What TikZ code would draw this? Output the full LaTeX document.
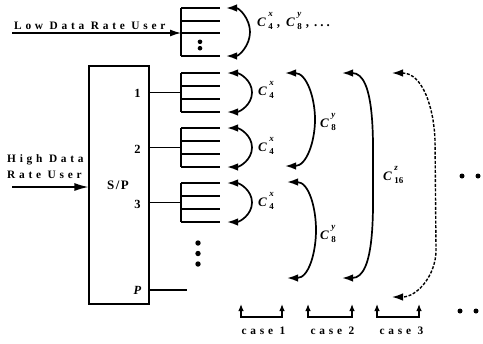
\documentclass[tikz,border=0pt]{standalone}
\usepackage{fontspec}
\setmainfont{Liberation Serif}
\newfontfamily\spc[LetterSpace=33]{Liberation Serif}
\newfontfamily\spcb[LetterSpace=12]{Liberation Serif}
\usetikzlibrary{arrows.meta,calc}
\newcommand\Cs[2]{\textbf{\textit{C}}\hspace{2.5pt}\makebox[0pt][l]{\raisebox{10pt}{\fontsize{9}{9}\selectfont\bfseries\itshape #1}}\raisebox{-3.5pt}{\fontsize{9}{9}\selectfont\bfseries #2}}
\newcommand\regdraw[2]{%
  \draw[regline] (#1.north west) -- (#1.south west);
  \foreach \k in {#2} \draw[regline] ($(#1.north west)!\k!(#1.south west)$) -- ($(#1.north east)!\k!(#1.south east)$);}
\begin{document}
\begin{tikzpicture}[x=1bp,y=-1bp,
  lbl/.style={font=\spc\bfseries\fontsize{11.4}{13}\selectfont, inner sep=0pt},
  num/.style={font=\bfseries\fontsize{12.5}{14}\selectfont, inner sep=0pt},
  clbl/.style={font=\bfseries\fontsize{13}{15}\selectfont, inner sep=0pt, anchor=base west},
  reg/.style={minimum width=39bp, minimum height=39bp, inner sep=0pt, outer sep=0pt},
  regline/.style={line width=1.1bp},
  arc/.style={line width=1.7bp, {Latex[length=11bp,width=7.5bp]}-{Latex[length=11bp,width=7.5bp]}},
  flow/.style={line width=1.3bp, -{Latex[length=11bp,width=7bp]}},
  bracket/.style={line width=1.2bp, {Latex[length=7bp,width=5.5bp]}-{Latex[length=7bp,width=5.5bp]}},
  dot/.style={circle, fill, inner sep=0pt, minimum size=5bp}]
\useasboundingbox (0,0) rectangle (483,343);

% low data rate register
\node[reg, minimum height=48bp] (r0) at (200.5,32) {};
\regdraw{r0}{0,0.2708,0.5208,1}
\node[dot, minimum size=4.6bp] (r0d1) at (200,41.8) {};
\node[dot, minimum size=4.6bp] (r0d2) at (200,48.2) {};
\coordinate (lowin) at (12,33);
\draw[flow] (lowin) -- (lowin -| r0.west);
\node[lbl, anchor=base west] (lowlbl) at (14,29) {Low Data Rate User};

% S/P box
\node[draw, line width=1.2bp, minimum width=60bp, minimum height=238bp, inner sep=0pt] (sp) at (119,185) {};
\node[font=\spcb\bfseries\fontsize{13}{15}\selectfont, inner sep=0pt] (splbl) at (118,185.5) {S/P};
\coordinate (highin) at (12,187);
\draw[flow, -{Latex[length=14bp,width=8bp]}] (highin) -- (highin -| sp.west);
\node[lbl, anchor=base west] (hi1) at (7,162.3) {High Data};
\node[lbl, anchor=base west] (hi2) at (7,178) {Rate User};

% registers
\node[reg] (r1) at (200.5,92.5) {};
\node[reg] (r2) at (200.5,147.5) {};
\node[reg] (r3) at (200.5,202.5) {};
\foreach \r in {r1,r2,r3} {\regdraw{\r}{0,0.3333,0.6667,1}}

\node[num] (p1) at (137.5,93) {1};
\node[num] (p2) at (137.5,149.5) {2};
\node[num] (p3) at (137.5,204) {3};
\node[num, font=\bfseries\itshape\fontsize{12.5}{14}\selectfont] (pp) at (137.5,290) {P};
\foreach \r in {r1,r2,r3} {\draw[regline] (sp.east |- \r.west) -- (\r.west);}
\coordinate (pend) at (187,290);
\draw[regline] (sp.east |- pend) -- (pend);

\node[dot, minimum size=5.4bp] (vd1) at (198,243) {};
\node[dot, minimum size=5.4bp] (vd2) at (198,253.5) {};
\node[dot, minimum size=5.4bp] (vd3) at (198,264) {};

% case 1 arcs
\coordinate (t0) at (226,8); \coordinate (m0) at (250,32); \coordinate (b0) at (226,56);
\draw[arc] (t0) to[out=0,in=90] (m0) to[out=-90,in=0] (b0);
\foreach \r in {r1,r2,r3} {
  \draw[arc] ($(\r.north east)+(7,0)$) to[out=0,in=90] ($(\r.east)+(32,0)$) to[out=-90,in=0] ($(\r.south east)+(7,0)$);}

% case 2 arcs
\coordinate (ta) at (285,73); \coordinate (ma) at (315,119.5); \coordinate (ba) at (285,166);
\draw[arc] (ta) to[out=0,in=90] (ma) to[out=-90,in=0] (ba);
\coordinate (tb) at (287,182); \coordinate (mb) at (316,230); \coordinate (bb) at (287,278);
\draw[arc] (tb) to[out=0,in=90] (mb) to[out=-90,in=0] (bb);

% case 3 arc
\coordinate (tc) at (342,73); \coordinate (mc) at (373,175.5); \coordinate (bc) at (342,278);
\draw[arc] (tc) to[out=0,in=90,looseness=0.8] (mc) to[out=-90,in=0,looseness=0.8] (bc);

% dashed arc
\coordinate (td) at (392,73); \coordinate (md1) at (435,140); \coordinate (md2) at (436,250); \coordinate (bd) at (392,297);
\draw[arc, line width=1.4bp, dash pattern=on 3bp off 1.6bp] (td) to[out=0,in=92] (md1) -- (md2) to[out=-90,in=0] (bd);

% labels
\node[clbl] (ltop) at (257,26) {\Cs{x}{4}\hspace{4pt},\hspace{6pt}\Cs{y}{8}\hspace{4pt},\hspace{5pt}.\hspace{3pt}.\hspace{3pt}.};
\node[clbl] (l41) at (258,95) {\Cs{x}{4}};
\node[clbl] (l42) at (258,151) {\Cs{x}{4}};
\node[clbl] (l43) at (258,206) {\Cs{x}{4}};
\node[clbl] (l81) at (320,127) {\Cs{y}{8}};
\node[clbl] (l82) at (320,239) {\Cs{y}{8}};
\node[clbl] (l16) at (383,180) {\Cs{z}{16}};

% far dots
\node[dot] (fd1) at (462,176) {};
\node[dot] (fd2) at (478,176) {};
\node[dot] (fd3) at (460,311) {};
\node[dot] (fd4) at (476,311) {};

% case brackets
\coordinate (c1l) at (241,317); \coordinate (c1r) at (282,317);
\coordinate (c2l) at (308,317); \coordinate (c2r) at (352,317);
\coordinate (c3l) at (377,317); \coordinate (c3r) at (419,317);
\foreach \a/\b in {c1l/c1r,c2l/c2r,c3l/c3r} {
  \draw[bracket] ($(\a)+(0,-13)$) -- (\a) -- (\b) -- ($(\b)+(0,-13)$);}
\node[lbl, anchor=base] (k1) at (263.5,334) {case 1};
\node[lbl, anchor=base] (k2) at (332.5,334) {case 2};
\node[lbl, anchor=base] (k3) at (401.5,334) {case 3};
\end{tikzpicture}
\end{document}
